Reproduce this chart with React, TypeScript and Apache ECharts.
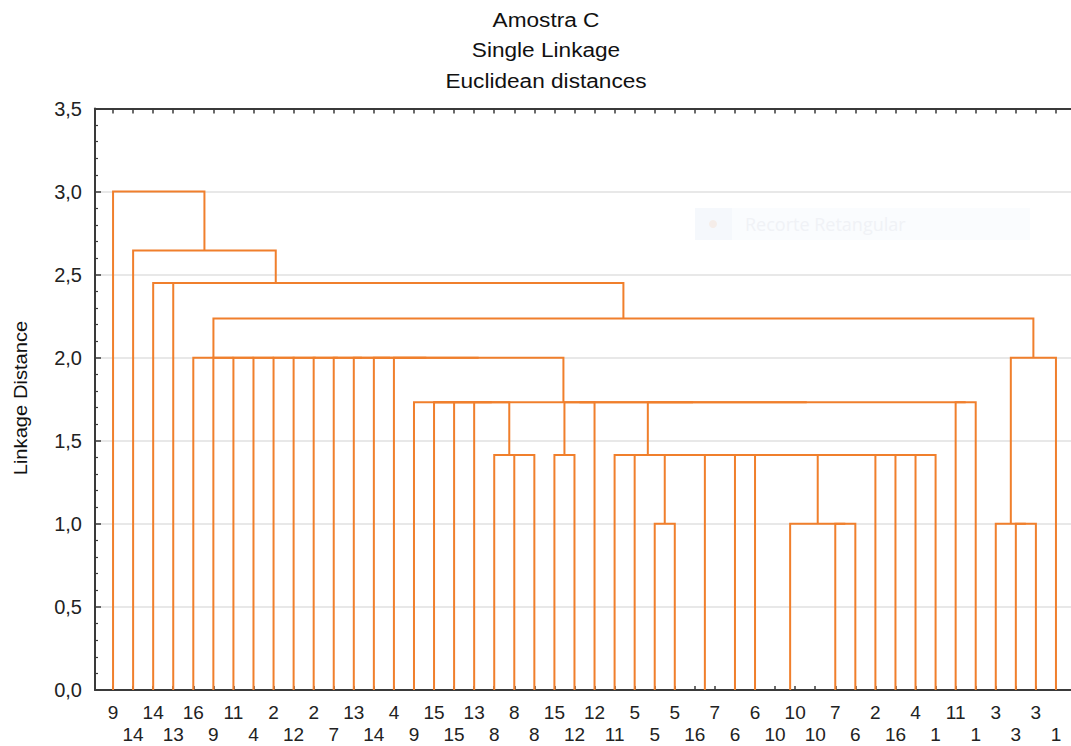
import React, { useEffect, useRef } from 'react';
import * as echarts from 'echarts';

// Leaf labels: top row (even leaf positions) and bottom row (odd leaf positions)
const topRowLabels = ['9', '14', '16', '11', '2', '2', '13', '4', '15', '13', '8', '15', '12', '5', '5', '7', '6', '10', '7', '2', '4', '11', '3', '3'];
const bottomRowLabels = ['14', '13', '9', '4', '12', '7', '14', '9', '15', '8', '8', '12', '11', '5', '16', '6', '10', '10', '6', '16', '1', '1', '3', '1'];

// Linkage table (node ids 48.. in order): left child, right child, linkage distance
const mergeLeft = [29, 34, 33, 27, 36, 50, 45, 44, 20, 19, 22, 40, 39, 38, 53, 32, 31, 51, 65, 26, 25, 18, 17, 16, 15, 58, 42, 68, 73, 72, 14, 13, 12, 11, 10, 9, 8, 7, 6, 5, 4, 55, 88, 3, 2, 1, 0];
const mergeRight = [30, 35, 49, 28, 37, 52, 46, 54, 21, 56, 23, 41, 59, 60, 61, 62, 63, 48, 64, 66, 67, 57, 69, 70, 71, 24, 43, 74, 75, 76, 77, 78, 79, 80, 81, 82, 83, 84, 85, 86, 87, 47, 89, 90, 91, 92, 93];
const mergeHeight = [
  0, 0, 0, 1, 1, 1, 1, 1,
  1.414, 1.414, 1.414, 1.414, 1.414, 1.414, 1.414, 1.414, 1.414, 1.414, 1.414, 1.414, 1.414,
  1.732, 1.732, 1.732, 1.732, 1.732, 1.732, 1.732, 1.732, 1.732,
  2, 2, 2, 2, 2, 2, 2, 2, 2, 2, 2, 2,
  2.236, 2.449, 2.449, 2.646, 3.0,
];

const yTicks = [0, 0.5, 1, 1.5, 2, 2.5, 3, 3.5];

const title = ['Amostra C', 'Single Linkage', 'Euclidean distances'];
const yAxisTitle = 'Linkage Distance';

const nLeaves = topRowLabels.length + bottomRowLabels.length;
const leafLabel = (i: number) => (i % 2 === 0 ? topRowLabels[i / 2] : bottomRowLabels[(i - 1) / 2]);
const leafIdx = Array.from({ length: nLeaves }, (_, i) => i);

function buildSegments() {
  const pos: number[] = leafIdx.slice();
  const hgt: number[] = leafIdx.map(() => 0);
  const segs: number[][][] = [];
  for (let k = 0; k < mergeLeft.length; k++) {
    const l = mergeLeft[k];
    const r = mergeRight[k];
    const h = mergeHeight[k];
    const id = nLeaves + k;
    pos[id] = (pos[l] + pos[r]) / 2;
    hgt[id] = h;
    if (h > 0) {
      segs.push([
        [pos[l], hgt[l]],
        [pos[l], h],
        [pos[r], h],
        [pos[r], hgt[r]],
      ]);
    }
  }
  return segs;
}

const FONT = '"Liberation Sans", Arial, sans-serif';
const AXIS_COLOR = '#3a3a3a';

export default function App() {
  const ref = useRef<HTMLDivElement>(null);
  useEffect(() => {
    if (!ref.current) return;
    const chart = echarts.init(ref.current, undefined, { renderer: 'svg' });
    const segs = buildSegments();
    const xMin = -0.9;
    const xMax = 47.75;
    const option: any = {
      animation: false,
      backgroundColor: '#ffffff',
      grid: { left: 95, right: 0, top: 108.5, bottom: 56, containLabel: false },
      xAxis: [
        {
          type: 'value',
          position: 'bottom',
          min: xMin,
          max: xMax,
          axisLine: { show: true, onZero: false, lineStyle: { color: AXIS_COLOR, width: 2 } },
          axisTick: { show: true, inside: true, length: 4, customValues: leafIdx, lineStyle: { color: AXIS_COLOR, width: 1.5 } },
          axisLabel: {
            show: true,
            customValues: leafIdx,
            margin: 11,
            fontSize: 19,
            lineHeight: 22,
            fontFamily: FONT,
            color: '#222',
            formatter: (v: number) => {
              const i = Math.round(v);
              return i % 2 === 0 ? leafLabel(i) : '\n' + leafLabel(i);
            },
          },
          splitLine: { show: false },
        },
        {
          type: 'value',
          position: 'top',
          min: xMin,
          max: xMax,
          axisLine: { show: true, onZero: false, lineStyle: { color: AXIS_COLOR, width: 2 } },
          axisTick: { show: true, inside: true, length: 5, customValues: leafIdx, lineStyle: { color: AXIS_COLOR, width: 1.5 } },
          axisLabel: { show: false },
          splitLine: { show: false },
        },
      ],
      yAxis: {
        type: 'value',
        position: 'left',
        min: yTicks[0],
        max: yTicks[yTicks.length - 1],
        interval: 0.5,
        axisLine: { show: true, onZero: false, lineStyle: { color: AXIS_COLOR, width: 2 } },
        axisTick: { show: true, inside: true, length: 6, lineStyle: { color: AXIS_COLOR, width: 1.5 } },
        minorTick: { show: true, splitNumber: 5, length: 3, lineStyle: { color: AXIS_COLOR, width: 1.2 } },
        splitLine: { show: true, lineStyle: { color: '#e0e0e0', width: 1.5 } },
        axisLabel: {
          margin: 13,
          fontSize: 20,
          fontFamily: FONT,
          color: '#222',
          formatter: (v: number) => v.toFixed(1).replace('.', ','),
        },
      },
      graphic: [
        ...title.map((t, i) => ({
          type: 'text',
          x: 546,
          y: 20 + i * 30.5,
          scaleX: 1.16,
          style: {
            text: t,
            fontSize: 19.5,
            fontFamily: FONT,
            fill: '#111',
            textAlign: 'center',
            textVerticalAlign: 'middle',
            align: 'center',
            verticalAlign: 'middle',
          },
        })),
        {
          type: 'text',
          x: 21,
          y: 398,
          rotation: Math.PI / 2,
          scaleX: 1.12,
          style: {
            text: yAxisTitle,
            fontSize: 18,
            fontFamily: FONT,
            fill: '#111',
            textAlign: 'center',
            textVerticalAlign: 'middle',
            align: 'center',
            verticalAlign: 'middle',
          },
        },
        {
          type: 'group',
          silent: true,
          children: [
            { type: 'rect', shape: { x: 695, y: 208, width: 335, height: 32 }, style: { fill: '#fafcfe' } },
            { type: 'rect', shape: { x: 695, y: 208, width: 37, height: 32 }, style: { fill: '#f5f8fc' } },
            { type: 'circle', shape: { cx: 713, cy: 224, r: 4 }, style: { fill: '#f5ede9' } },
            {
              type: 'text',
              x: 745,
              y: 224,
              style: {
                text: 'Recorte Retangular',
                fontSize: 18,
                fontFamily: '"Open Sans", sans-serif',
                fill: '#f0f2f6',
                textAlign: 'left',
                textVerticalAlign: 'middle',
                align: 'left',
                verticalAlign: 'middle',
              },
            },
          ],
        },
      ],
      series: [
        {
          type: 'lines',
          coordinateSystem: 'cartesian2d',
          xAxisIndex: 0,
          yAxisIndex: 0,
          polyline: true,
          silent: true,
          lineStyle: { color: '#f07f2c', width: 2, opacity: 1 },
          data: segs.map((c) => ({ coords: c })),
        },
      ],
    };
    chart.setOption(option);
    return () => chart.dispose();
  }, []);
  return <div ref={ref} style={{ position: 'fixed', left: 0, top: 0, width: 1071, height: 746 }} />;
}
